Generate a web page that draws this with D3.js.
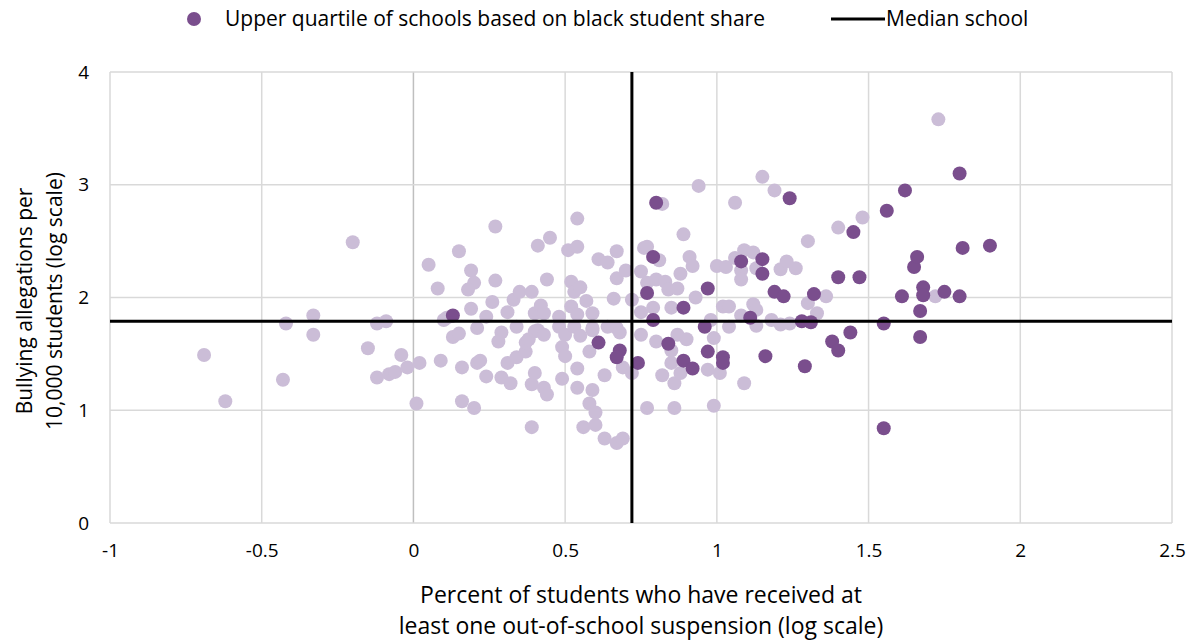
<!DOCTYPE html>
<html>
<head>
<meta charset="utf-8">
<script src="https://cdn.jsdelivr.net/npm/d3@7"></script>
<style>
  body { margin: 0; background: #fff; }
  svg text { font-family: "Open Sans", sans-serif; fill: #000; }
</style>
</head>
<body>
<svg id="chart" width="1195" height="641"></svg>
<script>
// ---------------------------------------------------------------------------
// Data (log suspension share, log bullying allegations)
// ---------------------------------------------------------------------------
const otherSchools = [
  [-0.69, 1.49], [-0.62, 1.08], [-0.43, 1.27], [-0.42, 1.77], [-0.33, 1.84], [-0.33, 1.67],
  [-0.20, 2.49], [-0.15, 1.55], [-0.12, 1.29], [-0.12, 1.77], [-0.09, 1.79], [-0.08, 1.32],
  [-0.06, 1.34], [-0.04, 1.49], [-0.02, 1.38], [0.01, 1.06], [0.02, 1.42], [0.05, 2.29],
  [0.08, 2.08], [0.09, 1.44], [0.10, 1.80], [0.11, 1.82], [0.13, 1.65], [0.15, 1.68],
  [0.15, 2.41], [0.16, 1.38], [0.16, 1.08], [0.19, 2.24], [0.20, 2.13], [0.18, 2.07],
  [0.19, 1.90], [0.20, 1.02], [0.21, 1.73], [0.21, 1.42], [0.22, 1.44], [0.24, 1.83],
  [0.24, 1.30], [0.27, 2.63], [0.27, 2.15], [0.26, 1.96], [0.29, 1.69], [0.28, 1.61],
  [0.29, 1.29], [0.31, 1.87], [0.31, 1.42], [0.32, 1.24], [0.33, 1.98], [0.34, 1.74],
  [0.34, 1.47], [0.35, 2.05], [0.37, 1.52], [0.37, 1.60], [0.39, 2.05], [0.38, 1.63],
  [0.39, 1.23], [0.39, 0.85], [0.40, 1.86], [0.40, 1.70], [0.40, 1.33], [0.41, 2.46],
  [0.41, 1.71], [0.42, 1.93], [0.43, 1.86], [0.43, 1.67], [0.43, 1.20], [0.44, 2.16],
  [0.44, 1.14], [0.45, 2.53], [0.48, 1.83], [0.48, 1.74], [0.49, 1.56], [0.49, 1.28],
  [0.50, 1.48], [0.50, 1.67], [0.51, 2.42], [0.52, 2.14], [0.52, 1.92], [0.53, 2.05],
  [0.53, 1.74], [0.54, 2.70], [0.54, 2.45], [0.54, 1.85], [0.54, 1.37], [0.54, 1.20],
  [0.55, 2.09], [0.55, 1.66], [0.56, 0.85], [0.57, 1.97], [0.58, 1.52], [0.58, 1.06],
  [0.59, 1.86], [0.59, 1.73], [0.59, 1.71], [0.59, 1.18], [0.60, 0.98], [0.60, 0.87],
  [0.61, 2.34], [0.63, 1.31], [0.63, 0.75], [0.64, 2.31], [0.64, 1.74], [0.66, 1.99],
  [0.67, 2.41], [0.67, 2.17], [0.67, 1.73], [0.67, 0.71], [0.68, 1.69], [0.69, 1.38],
  [0.69, 0.75], [0.70, 2.24], [0.72, 1.98], [0.72, 1.33], [0.75, 2.23], [0.75, 1.87],
  [0.75, 1.67], [0.76, 2.44], [0.77, 2.45], [0.77, 2.13], [0.77, 1.02], [0.79, 1.91],
  [0.80, 2.16], [0.80, 1.61], [0.81, 2.33], [0.82, 2.83], [0.82, 1.31], [0.83, 2.14],
  [0.84, 2.07], [0.85, 1.91], [0.85, 1.53], [0.85, 1.42], [0.86, 1.24], [0.86, 1.02],
  [0.87, 2.08], [0.87, 1.67], [0.88, 2.21], [0.88, 1.33], [0.89, 2.56], [0.90, 1.63],
  [0.91, 2.36], [0.92, 2.28], [0.93, 2.00], [0.94, 2.99], [0.97, 1.36], [0.98, 1.80],
  [0.99, 1.64], [0.99, 1.04], [1.00, 2.28], [1.01, 1.33], [1.02, 1.92], [1.03, 2.27],
  [1.04, 1.92], [1.04, 1.74], [1.06, 2.35], [1.06, 2.84], [1.08, 2.24], [1.08, 2.16],
  [1.08, 1.84], [1.09, 2.42], [1.09, 1.24], [1.12, 2.40], [1.12, 1.94], [1.13, 2.26],
  [1.13, 1.89], [1.13, 1.75], [1.15, 3.07], [1.18, 1.80], [1.19, 2.95], [1.21, 2.25],
  [1.21, 1.76], [1.23, 2.32], [1.24, 1.77], [1.26, 2.26], [1.30, 2.50], [1.30, 1.95],
  [1.33, 1.86], [1.36, 2.01], [1.40, 2.62], [1.48, 2.71], [1.72, 2.01], [1.73, 3.58]
];

const topQuartile = [
  [0.13, 1.84], [0.61, 1.60], [0.68, 1.53], [0.67, 1.47], [0.74, 1.42], [0.77, 2.04],
  [0.79, 2.36], [0.79, 1.80], [0.80, 2.84], [0.84, 1.59], [0.89, 1.91], [0.89, 1.44],
  [0.92, 1.37], [0.96, 1.74], [0.97, 2.08], [0.97, 1.52], [1.02, 1.47], [1.02, 1.42],
  [1.08, 2.32], [1.11, 1.82], [1.15, 2.34], [1.15, 2.21], [1.16, 1.48], [1.19, 2.05],
  [1.22, 2.01], [1.24, 2.88], [1.28, 1.79], [1.29, 1.39], [1.31, 1.78], [1.32, 2.03],
  [1.38, 1.61], [1.40, 1.53], [1.40, 2.18], [1.44, 1.69], [1.45, 2.58], [1.47, 2.18],
  [1.55, 1.77], [1.55, 0.84], [1.56, 2.77], [1.61, 2.01], [1.62, 2.95], [1.65, 2.27],
  [1.66, 2.36], [1.67, 1.88], [1.67, 1.65], [1.68, 2.09], [1.68, 2.02], [1.75, 2.05],
  [1.80, 2.01], [1.80, 3.10], [1.81, 2.44], [1.90, 2.46]
];

const medianSchool = { x: 0.72, y: 1.79 };

const xTicks = [-1, -0.5, 0, 0.5, 1, 1.5, 2, 2.5];
const yTicks = [0, 1, 2, 3, 4];

const legendLabels = ["Upper quartile of schools based on black student share", "Median school"];
const xTitle = ["Percent of students who have received at", "least one out-of-school suspension (log scale)"];
const yTitle = ["Bullying allegations per", "10,000 students (log scale)"];

// ---------------------------------------------------------------------------
// Layout
// ---------------------------------------------------------------------------
const LIGHT = "#cbbdd7";
const DARK = "#7a4e8d";
const GRID = "#d9d9d9";
const R = 7;

const svg = d3.select("#chart");
const plot = { left: 110, right: 1172, top: 72, bottom: 523 };

const x = d3.scaleLinear().domain([-1, 2.5]).range([plot.left, plot.right]);
const y = d3.scaleLinear().domain([0, 4]).range([plot.bottom, plot.top]);

// Gridlines
const grid = svg.append("g");
grid.selectAll("line.v")
  .data(xTicks)
  .join("line")
  .attr("x1", (d) => x(d)).attr("x2", (d) => x(d))
  .attr("y1", plot.top).attr("y2", plot.bottom)
  .attr("stroke", (d) => (d === 0 ? "#bfbfbf" : GRID))
  .attr("stroke-width", 1.5);
grid.selectAll("line.h")
  .data(yTicks)
  .join("line")
  .attr("x1", plot.left).attr("x2", plot.right)
  .attr("y1", (d) => y(d)).attr("y2", (d) => y(d))
  .attr("stroke", GRID)
  .attr("stroke-width", 1.5);

// Axes (labels only), plain hyphen for negatives like the original
const fmt = (d) => String(d);
const xAxis = svg.append("g")
  .attr("transform", `translate(0,${plot.bottom})`)
  .call(d3.axisBottom(x).tickValues(xTicks).tickSize(0).tickPadding(21).tickFormat(fmt));
const yAxis = svg.append("g")
  .attr("transform", `translate(${plot.left},0)`)
  .call(d3.axisLeft(y).tickValues(yTicks).tickSize(0).tickPadding(21).tickFormat(fmt));
[xAxis, yAxis].forEach((a) => {
  a.select(".domain").remove();
  a.selectAll("text").style("font-size", "19px").attr("fill", "#000");
});

// Points
svg.append("g").selectAll("circle")
  .data(otherSchools)
  .join("circle")
  .attr("cx", (d) => x(d[0]))
  .attr("cy", (d) => y(d[1]))
  .attr("r", R)
  .attr("fill", LIGHT);

svg.append("g").selectAll("circle")
  .data(topQuartile)
  .join("circle")
  .attr("cx", (d) => x(d[0]))
  .attr("cy", (d) => y(d[1]))
  .attr("r", R)
  .attr("fill", DARK);

// Median cross
svg.append("line")
  .attr("x1", x(medianSchool.x)).attr("x2", x(medianSchool.x))
  .attr("y1", plot.top).attr("y2", plot.bottom)
  .attr("stroke", "#000").attr("stroke-width", 3);
svg.append("line")
  .attr("x1", plot.left).attr("x2", plot.right)
  .attr("y1", y(medianSchool.y)).attr("y2", y(medianSchool.y))
  .attr("stroke", "#000").attr("stroke-width", 3);

// Axis titles
svg.append("text")
  .attr("text-anchor", "middle")
  .style("font-size", "23px")
  .selectAll("tspan")
  .data(xTitle)
  .join("tspan")
  .attr("x", 641)
  .attr("y", (d, i) => 603 + i * 31)
  .text((d) => d);

svg.append("text")
  .attr("text-anchor", "middle")
  .attr("transform", "translate(0,301) rotate(-90)")
  .style("font-size", "21px")
  .selectAll("tspan")
  .data(yTitle)
  .join("tspan")
  .attr("x", 0)
  .attr("y", (d, i) => 32 + i * 30)
  .text((d) => d);

// Legend
const legend = svg.append("g");
legend.append("circle").attr("cx", 194).attr("cy", 19).attr("r", R).attr("fill", DARK);
legend.append("text").attr("x", 225).attr("y", 26).style("font-size", "21px").text(legendLabels[0]);
legend.append("line").attr("x1", 831).attr("x2", 885).attr("y1", 19).attr("y2", 19)
  .attr("stroke", "#000").attr("stroke-width", 3);
legend.append("text").attr("x", 886).attr("y", 26).style("font-size", "21px").text(legendLabels[1]);
</script>
</body>
</html>
